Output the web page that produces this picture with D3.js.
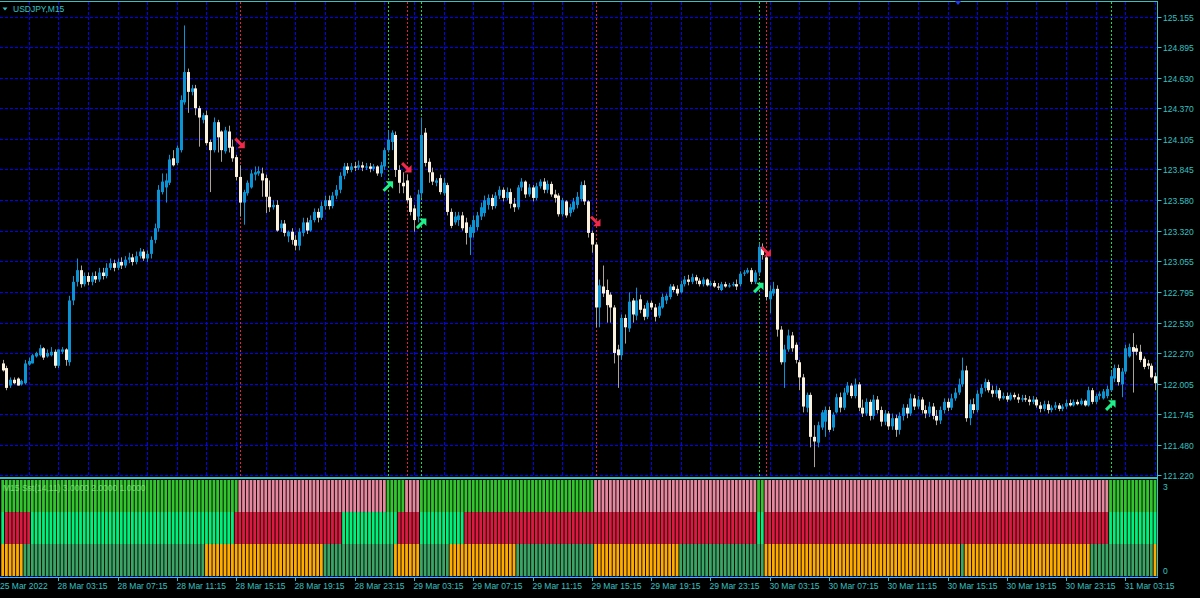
<!DOCTYPE html>
<html>
<head>
<meta charset="utf-8">
<script src="https://cdnjs.cloudflare.com/ajax/libs/d3/7.8.5/d3.min.js"></script>
<style>
  html, body { margin: 0; padding: 0; background: #000; overflow: hidden; }
  text { font-family: "Liberation Sans", Arial, sans-serif; font-size: 8.5px; }
</style>
</head>
<body>
<div id="chart"></div>
<script>
// USDJPY M15 bars, 25 Mar 23:30 .. 31 Mar 05:15
const opens = [
122.18,122.14,121.99,122.04,122.05,122.00,122.01,122.17,122.18,122.24,
122.25,122.31,122.24,122.25,122.28,122.16,122.28,122.30,122.19,122.72,
122.88,122.98,122.86,122.93,122.88,122.93,122.90,122.96,122.93,123.00,
123.04,123.00,123.05,123.02,123.07,123.09,123.05,123.10,123.14,123.08,
123.12,123.24,123.34,123.65,123.69,123.73,123.94,123.90,124.01,124.42,
124.68,124.51,124.54,124.37,124.27,124.31,124.08,124.01,124.25,124.17,
124.00,124.17,124.04,123.95,123.78,123.56,123.64,123.69,123.80,123.81,
123.81,123.77,123.61,123.52,123.54,123.34,123.38,123.27,123.31,123.24,
123.19,123.30,123.39,123.32,123.41,123.48,123.43,123.53,123.58,123.53,
123.62,123.67,123.79,123.87,123.84,123.87,123.86,123.88,123.86,123.87,
123.85,123.87,123.81,123.87,124.01,124.08,124.14,123.84,123.73,123.75,
123.60,123.51,123.44,123.64,124.16,123.91,123.82,123.73,123.77,123.64,
123.71,123.48,123.39,123.41,123.45,123.39,123.26,123.30,123.35,123.44,
123.47,123.54,123.60,123.53,123.62,123.67,123.60,123.65,123.55,123.52,
123.69,123.74,123.63,123.69,123.60,123.70,123.74,123.67,123.72,123.63,
123.62,123.46,123.57,123.47,123.50,123.54,123.59,123.71,123.57,123.30,
123.20,122.66,122.84,122.81,122.77,122.66,122.30,122.25,122.57,122.48,
122.72,122.59,122.73,122.65,122.58,122.70,122.66,122.59,122.66,122.72,
122.75,122.84,122.82,122.79,122.86,122.90,122.88,122.92,122.89,122.86,
122.90,122.85,122.87,122.84,122.81,122.86,122.84,122.85,122.86,122.86,
122.95,122.96,122.98,122.88,122.96,123.18,123.09,122.73,122.78,122.82,
122.47,122.19,122.30,122.42,122.34,122.19,122.06,121.80,121.91,121.55,
121.50,121.63,121.68,121.78,121.63,121.76,121.89,121.80,121.93,121.99,
121.90,122.00,121.80,121.75,121.85,121.73,121.87,121.78,121.68,121.75,
121.64,121.71,121.61,121.73,121.80,121.75,121.88,121.81,121.87,121.78,
121.75,121.81,121.73,121.69,121.78,121.85,121.80,121.88,121.93,122.00,
122.12,121.71,121.83,121.78,121.92,121.97,122.02,121.95,121.92,121.95,
121.88,121.90,121.87,121.91,121.89,121.87,121.88,121.87,121.85,121.87,
121.82,121.79,121.83,121.78,121.80,121.82,121.79,121.81,121.84,121.82,
121.85,121.83,121.86,121.82,121.95,121.85,121.90,121.88,121.90,121.95,
122.05,122.14,122.00,122.11,122.24,122.32,122.31,122.28,122.22,122.18,
122.16,122.07];
const highs = [
122.21,122.16,122.06,122.06,122.06,122.04,122.21,122.23,122.26,122.28,
122.34,122.32,122.30,122.32,122.30,122.30,122.32,122.31,122.76,122.93,
123.08,123.02,122.96,122.96,122.96,122.97,123.00,123.00,123.04,123.08,
123.07,123.08,123.09,123.10,123.13,123.12,123.14,123.17,123.16,123.15,
123.27,123.38,123.71,123.81,123.81,123.97,124.01,124.05,124.48,125.08,
124.71,124.57,124.57,124.39,124.33,124.35,124.10,124.29,124.27,124.18,
124.21,124.22,124.10,123.97,123.88,123.67,123.75,123.84,123.87,123.87,
123.86,123.80,123.75,123.58,123.58,123.41,123.41,123.32,123.34,123.28,
123.34,123.43,123.43,123.45,123.51,123.51,123.57,123.62,123.62,123.65,
123.71,123.82,123.90,123.90,123.90,123.91,123.92,123.91,123.90,123.90,
123.89,123.88,123.91,124.03,124.18,124.18,124.17,123.88,123.82,123.80,
123.62,123.54,123.67,124.29,124.20,123.94,123.86,123.77,123.80,123.77,
123.73,123.51,123.48,123.48,123.48,123.43,123.37,123.45,123.48,123.56,
123.62,123.63,123.63,123.65,123.70,123.69,123.69,123.68,123.60,123.71,
123.77,123.75,123.72,123.71,123.73,123.76,123.77,123.75,123.74,123.67,
123.64,123.60,123.58,123.55,123.60,123.65,123.74,123.75,123.58,123.32,
123.22,122.90,123.02,122.90,122.79,122.68,122.34,122.60,122.60,122.79,
122.74,122.83,122.77,122.68,122.72,122.72,122.69,122.70,122.78,122.78,
122.86,122.86,122.85,122.89,122.93,122.94,122.95,122.94,122.91,122.92,
122.91,122.89,122.89,122.87,122.88,122.88,122.87,122.88,122.90,122.97,
122.98,123.00,123.00,122.98,123.21,123.21,123.11,122.85,122.88,122.85,
122.50,122.34,122.47,122.45,122.36,122.21,122.09,121.93,121.93,121.65,
121.68,121.78,121.81,121.81,121.76,121.92,121.93,121.97,122.02,122.01,
122.05,122.02,121.87,121.88,121.87,121.91,121.90,121.81,121.78,121.77,
121.75,121.74,121.76,121.83,121.83,121.92,121.91,121.90,121.89,121.82,
121.85,121.84,121.78,121.81,121.88,121.88,121.92,121.97,122.05,122.23,
122.16,121.87,121.88,121.95,122.00,122.05,122.04,121.99,121.99,121.97,
121.93,121.93,121.93,121.93,121.92,121.91,121.91,121.90,121.90,121.89,
121.85,121.86,121.86,121.82,121.85,121.84,121.83,121.87,121.87,121.87,
121.87,121.88,121.87,121.98,121.97,121.92,121.94,121.96,121.99,122.11,
122.17,122.17,122.14,122.34,122.35,122.44,122.34,122.34,122.24,122.21,
122.18,122.10];
const lows = [
122.11,121.95,121.97,122.00,121.99,121.99,122.00,122.16,122.18,122.23,
122.24,122.21,122.23,122.24,122.14,122.14,122.26,122.16,122.16,122.68,
122.84,122.83,122.84,122.85,122.85,122.87,122.88,122.90,122.91,122.98,
122.97,122.98,122.99,123.00,123.04,123.02,123.03,123.08,123.06,123.05,
123.08,123.21,123.31,123.63,123.56,123.71,123.87,123.88,123.99,124.40,
124.33,124.48,124.31,124.04,124.24,124.05,123.65,123.99,123.99,123.91,
123.98,123.99,123.91,123.75,123.44,123.37,123.62,123.68,123.75,123.79,
123.61,123.47,123.48,123.50,123.31,123.31,123.27,123.22,123.20,123.15,
123.15,123.27,123.29,123.31,123.39,123.39,123.41,123.50,123.50,123.51,
123.59,123.64,123.76,123.81,123.82,123.83,123.84,123.83,123.84,123.82,
123.83,123.79,123.78,123.84,123.99,124.01,123.78,123.64,123.64,123.56,
123.45,123.31,123.39,123.60,123.87,123.73,123.71,123.70,123.63,123.62,
123.45,123.34,123.37,123.36,123.32,123.20,123.11,123.26,123.32,123.41,
123.44,123.50,123.50,123.51,123.59,123.57,123.58,123.51,123.48,123.50,
123.66,123.60,123.61,123.57,123.58,123.68,123.64,123.64,123.61,123.56,
123.44,123.44,123.43,123.44,123.48,123.51,123.57,123.54,123.26,123.13,
122.49,122.49,122.75,122.53,122.53,122.18,121.97,122.21,122.35,122.45,
122.53,122.55,122.61,122.55,122.56,122.64,122.54,122.57,122.65,122.69,
122.73,122.79,122.76,122.78,122.84,122.85,122.86,122.86,122.84,122.84,
122.84,122.84,122.83,122.81,122.80,122.83,122.83,122.84,122.81,122.84,
122.93,122.95,122.86,122.86,122.94,123.07,122.72,122.61,122.76,122.41,
122.17,121.97,122.28,122.28,122.18,121.95,121.76,121.76,121.46,121.29,
121.46,121.61,121.55,121.59,121.60,121.75,121.76,121.78,121.91,121.88,
121.88,121.77,121.72,121.73,121.69,121.70,121.75,121.64,121.65,121.61,
121.61,121.55,121.57,121.69,121.71,121.73,121.78,121.79,121.75,121.71,
121.72,121.70,121.65,121.66,121.75,121.77,121.78,121.86,121.91,121.98,
121.68,121.65,121.75,121.76,121.89,121.94,121.93,121.89,121.89,121.86,
121.87,121.85,121.86,121.87,121.84,121.85,121.85,121.82,121.83,121.80,
121.76,121.77,121.75,121.76,121.78,121.77,121.77,121.79,121.81,121.81,
121.82,121.82,121.81,121.81,121.83,121.83,121.87,121.87,121.88,121.94,
122.02,121.99,121.89,122.09,122.23,121.93,122.25,122.19,122.13,122.13,
122.05,121.95];
const closes = [
122.12,121.97,122.04,122.01,121.99,122.03,122.18,122.20,122.25,122.27,
122.31,122.23,122.27,122.28,122.16,122.30,122.30,122.21,122.72,122.88,
122.98,122.86,122.93,122.88,122.93,122.90,122.96,122.93,123.00,123.04,
123.00,123.05,123.02,123.07,123.09,123.05,123.10,123.14,123.08,123.12,
123.24,123.34,123.67,123.74,123.75,123.93,123.88,124.03,124.44,124.68,
124.51,124.54,124.37,124.29,124.31,124.07,124.01,124.25,124.12,124.01,
124.18,124.03,123.94,123.78,123.56,123.65,123.73,123.81,123.82,123.83,
123.75,123.61,123.52,123.54,123.32,123.38,123.30,123.31,123.24,123.19,
123.31,123.39,123.32,123.41,123.48,123.43,123.53,123.58,123.53,123.62,
123.67,123.79,123.87,123.84,123.87,123.86,123.88,123.86,123.87,123.85,
123.87,123.81,123.88,124.01,124.10,124.16,123.84,123.73,123.70,123.58,
123.48,123.41,123.63,124.14,123.90,123.82,123.74,123.75,123.65,123.73,
123.48,123.36,123.44,123.45,123.34,123.30,123.35,123.41,123.45,123.52,
123.58,123.60,123.53,123.62,123.67,123.60,123.65,123.55,123.52,123.69,
123.74,123.63,123.69,123.60,123.70,123.74,123.67,123.72,123.63,123.60,
123.46,123.58,123.45,123.52,123.57,123.61,123.71,123.57,123.30,123.20,
122.66,122.85,122.78,122.68,122.66,122.27,122.25,122.57,122.49,122.71,
122.60,122.72,122.64,122.58,122.70,122.66,122.58,122.67,122.75,122.76,
122.84,122.81,122.78,122.86,122.90,122.88,122.92,122.89,122.86,122.90,
122.85,122.87,122.84,122.83,122.86,122.84,122.85,122.86,122.84,122.95,
122.96,122.98,122.88,122.96,123.18,123.11,122.75,122.80,122.82,122.47,
122.19,122.30,122.42,122.31,122.21,122.06,121.81,121.91,121.55,121.51,
121.65,121.76,121.78,121.61,121.74,121.89,121.80,121.93,121.99,121.90,
122.00,121.80,121.75,121.85,121.73,121.87,121.78,121.68,121.75,121.64,
121.71,121.61,121.73,121.80,121.75,121.88,121.81,121.87,121.78,121.75,
121.81,121.73,121.69,121.78,121.85,121.80,121.88,121.93,122.00,122.12,
121.71,121.83,121.78,121.92,121.97,122.02,121.95,121.92,121.95,121.88,
121.90,121.87,121.91,121.89,121.87,121.88,121.87,121.85,121.87,121.82,
121.79,121.83,121.78,121.80,121.82,121.79,121.81,121.84,121.82,121.85,
121.83,121.86,121.82,121.95,121.85,121.90,121.92,121.94,121.96,122.07,
122.14,122.02,122.11,122.31,122.32,122.28,122.28,122.21,122.15,122.16,
122.06,122.01];

const priceTicks = [125.155,124.895,124.630,124.370,124.105,123.845,123.580,123.320,
                    123.055,122.795,122.530,122.270,122.005,121.745,121.480,121.220];
const timeTicks = [[15,"28 Mar 03:15"],[31,"28 Mar 07:15"],[47,"28 Mar 11:15"],[63,"28 Mar 15:15"],
  [79,"28 Mar 19:15"],[95,"28 Mar 23:15"],[111,"29 Mar 03:15"],[127,"29 Mar 07:15"],
  [143,"29 Mar 11:15"],[159,"29 Mar 15:15"],[175,"29 Mar 19:15"],[191,"29 Mar 23:15"],
  [207,"30 Mar 03:15"],[223,"30 Mar 07:15"],[239,"30 Mar 11:15"],[255,"30 Mar 15:15"],
  [271,"30 Mar 19:15"],[287,"30 Mar 23:15"],[303,"31 Mar 03:15"]];
const firstDate = "25 Mar 2022";

// signal bars and arrow prices
const sellBars = [64, 109, 160, 206];
const sellArrow = [124.07, 123.86, 123.40, 123.14];
const buyBars = [104, 113, 204, 299];
const buyArrow = [123.70, 123.38, 122.83, 121.82];

// indicator: bar ranges where each row is bullish (others bearish)
const rowTopBull = [[0,63],[104,108],[113,159],[204,205],[299,311]];
const rowMidBull = [[0,0],[8,62],[92,106],[113,124],[204,205],[299,311]];
const rowLowBull = [[6,54],[87,105],[113,120],[139,159],[183,205],[259,259],[294,310]];
const indicatorLabel = "M15 Sst(14,11) 3.0000 2.0000 1.0000";

const W = 1200, H = 598;
const axisX = 1157.5;
const fg = "#35c2c2";
const gridColor = "#0000ff";

const svg = d3.select("#chart").append("svg")
  .attr("width", W).attr("height", H)
  .style("background", "#000");

const x = d3.scaleLinear().domain([0, closes.length - 1]).range([2.7, 1155]);
const y = d3.scaleLinear().domain([121.220, 125.155]).range([475.3, 16.7]);
const yi = d3.scaleLinear().domain([0, 3]).range([576, 480]);

// grid
const grid = svg.append("g").attr("stroke", gridColor).attr("stroke-dasharray", "3,2").attr("stroke-width", 1);
priceTicks.forEach(p => {
  const yy = Math.round(y(p)) + 0.5;
  grid.append("line").attr("x1", 0).attr("x2", axisX).attr("y1", yy).attr("y2", yy);
});
for (let i = 7; i < closes.length; i += 8) {
  const xx = Math.round(x(i)) + 0.5;
  grid.append("line").attr("x1", xx).attr("x2", xx).attr("y1", 2).attr("y2", 477);
}

// signal lines
const sig = svg.append("g").attr("stroke-width", 1).attr("stroke-dasharray", "2,2");
sellBars.forEach(i => {
  const xx = Math.round(x(i)) + 0.5;
  sig.append("line").attr("x1", xx).attr("x2", xx).attr("y1", 2).attr("y2", 477).attr("stroke", "#e0203c");
});
buyBars.forEach(i => {
  const xx = Math.round(x(i)) + 0.5;
  sig.append("line").attr("x1", xx).attr("x2", xx).attr("y1", 2).attr("y2", 477).attr("stroke", "#10e050");
});

// candles
const bullCol = "#0a94d6", bearCol = "#fbf1dc", bearWick = "#a9a49a";
const candles = svg.append("g");
closes.forEach((c, i) => {
  const o = opens[i], bull = c >= o;
  const xc = Math.round(x(i));
  candles.append("line")
    .attr("x1", xc + 0.5).attr("x2", xc + 0.5)
    .attr("y1", y(highs[i])).attr("y2", y(lows[i]))
    .attr("stroke", bull ? bullCol : bearWick).attr("stroke-width", 1);
  const top = y(Math.max(o, c)), bot = y(Math.min(o, c));
  candles.append("rect")
    .attr("x", xc - 1).attr("width", 3)
    .attr("y", top).attr("height", Math.max(1, bot - top))
    .attr("fill", bull ? bullCol : bearCol);
});

// arrows
function arrow(i, price, up, color) {
  const g = svg.append("g").attr("transform", `translate(${x(i)},${y(price)})`);
  const s = up ? -1 : 1;
  g.append("line").attr("x1", -4.5).attr("y1", -4.5 * s).attr("x2", 2).attr("y2", 2 * s)
    .attr("stroke", color).attr("stroke-width", 3);
  g.append("path").attr("d", `M5,${5 * s} L5,${-2.5 * s} L${-2.5},${5 * s} Z`).attr("fill", color);
}
sellBars.forEach((b, k) => arrow(b, sellArrow[k], false, "#f0284a"));
buyBars.forEach((b, k) => arrow(b, buyArrow[k], true, "#1ef08a"));

// indicator histogram
const inRange = (ranges, i) => ranges.some(r => i >= r[0] && i <= r[1]);
const ind = svg.append("g");
closes.forEach((c, i) => {
  const xl = x(i) - 1.4;
  ind.append("rect").attr("x", xl).attr("width", 2.8).attr("y", yi(3)).attr("height", yi(2) - yi(3))
    .attr("fill", inRange(rowTopBull, i) ? "#33c52e" : "#e8889f");
  ind.append("rect").attr("x", xl).attr("width", 2.8).attr("y", yi(2)).attr("height", yi(1) - yi(2))
    .attr("fill", inRange(rowMidBull, i) ? "#00f07a" : "#dc1a40");
  ind.append("rect").attr("x", xl).attr("width", 2.8).attr("y", yi(1)).attr("height", yi(0) - yi(1))
    .attr("fill", inRange(rowLowBull, i) ? "#3aa564" : "#ffab00");
});
svg.append("text").attr("x", 3).attr("y", 491).attr("fill", "#8ee58a").attr("opacity", 0.8).text(indicatorLabel);

// frame lines
const frame = svg.append("g").attr("stroke", fg).attr("stroke-width", 1);
frame.append("line").attr("x1", 0).attr("x2", axisX).attr("y1", 1.5).attr("y2", 1.5);
frame.append("line").attr("x1", 0).attr("x2", axisX).attr("y1", 477.5).attr("y2", 477.5);
frame.append("line").attr("x1", 0).attr("x2", axisX).attr("y1", 478.5).attr("y2", 478.5);
frame.append("line").attr("x1", 0).attr("x2", axisX).attr("y1", 577.5).attr("y2", 577.5);
frame.append("line").attr("x1", axisX).attr("x2", axisX).attr("y1", 1).attr("y2", 578);
svg.append("line").attr("x1", 0).attr("x2", axisX).attr("y1", 576.5).attr("y2", 576.5)
  .attr("stroke", gridColor).attr("stroke-dasharray", "3,2");

// price axis
priceTicks.forEach(p => {
  const yy = Math.round(y(p)) + 0.5;
  frame.append("line").attr("x1", axisX).attr("x2", axisX + 4).attr("y1", yy).attr("y2", yy);
  svg.append("text").attr("x", 1163).attr("y", yy + 3).attr("fill", fg).text(p.toFixed(3));
});
svg.append("text").attr("x", 1163).attr("y", 490).attr("fill", fg).text("3");
svg.append("text").attr("x", 1163).attr("y", 574).attr("fill", fg).text("0");

// time axis
svg.append("text").attr("x", 0).attr("y", 589).attr("fill", fg).text(firstDate);
timeTicks.forEach(([i, lab]) => {
  const xx = Math.round(x(i)) + 0.5;
  frame.append("line").attr("x1", xx).attr("x2", xx).attr("y1", 578).attr("y2", 581);
  svg.append("text").attr("x", xx - 1).attr("y", 589).attr("fill", fg).text(lab);
});

// title
svg.append("path").attr("d", "M2.5,7.5 L7.5,7.5 L5,10.5 Z").attr("fill", fg);
svg.append("text").attr("x", 13).attr("y", 12).attr("fill", fg).text("USDJPY,M15");
// small marker at top
svg.append("path").attr("d", "M955,1 L961,1 L958,5 Z").attr("fill", "#1a3cff");
</script>
</body>
</html>
